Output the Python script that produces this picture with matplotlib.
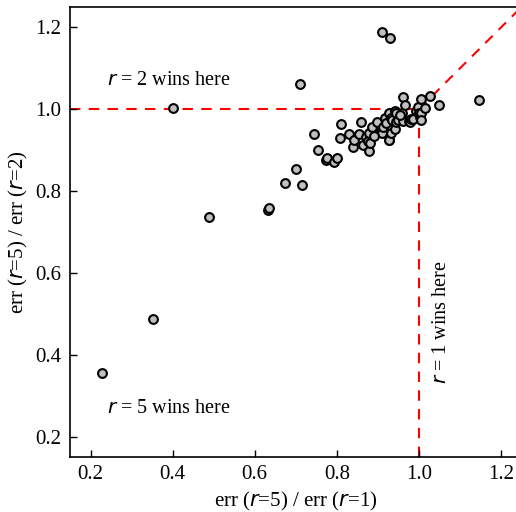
import matplotlib
matplotlib.use("Agg")
import matplotlib.pyplot as plt

plt.rcParams['font.family'] = ['Liberation Serif', 'DejaVu Serif']
plt.rcParams['mathtext.fontset'] = 'dejavusans'

# ratio err(r=5)/err(r=1)
ratio_r1 = [0.229, 0.351, 0.402, 0.488, 0.632, 0.635, 0.675, 0.700, 0.716, 0.711,
            0.745, 0.753, 0.773, 0.776, 0.792, 0.800, 0.808, 0.810, 0.829, 0.840,
            0.841, 0.854, 0.859, 0.863, 0.872, 0.875, 0.878, 0.879, 0.880, 0.885,
            0.897, 0.907, 0.909, 0.910, 0.913, 0.917, 0.921, 0.926, 0.927, 0.928,
            0.929, 0.932, 0.933, 0.934, 0.941, 0.942, 0.944, 0.944, 0.950, 0.960,
            0.962, 0.962, 0.965, 0.976, 0.978, 0.980, 0.986, 0.994, 0.997, 1.000,
            1.002, 1.004, 1.004, 1.006, 1.015, 1.027, 1.049, 1.146, 0.890, 0.955]
# ratio err(r=5)/err(r=2)
ratio_r2 = [0.356, 0.488, 1.002, 0.737, 0.754, 0.758, 0.821, 0.854, 0.815, 1.063,
            0.940, 0.900, 0.876, 0.880, 0.871, 0.880, 0.930, 0.965, 0.939, 0.908,
            0.926, 0.939, 0.969, 0.912, 0.932, 0.922, 0.898, 0.941, 0.918, 0.957,
            0.969, 0.948, 0.942, 1.188, 0.957, 0.979, 0.967, 0.990, 0.924, 0.926,
            1.174, 0.979, 0.941, 0.973, 0.953, 0.996, 0.990, 0.969, 0.973, 0.992,
            1.030, 0.972, 1.011, 0.971, 0.970, 0.977, 0.977, 0.996, 1.006, 0.990,
            0.981, 1.025, 0.990, 0.975, 1.002, 1.032, 1.011, 1.022, 0.935, 0.985]

lim = (0.15, 1.25)
ticks = [0.2, 0.4, 0.6, 0.8, 1.0, 1.2]

fig = plt.figure(figsize=(5.16, 5.12), dpi=100)
# the right part of the axes falls outside the picture, as in the original
ax = fig.add_axes([70 / 516, 55 / 512, 451.5 / 516, 450 / 512])

# regions where each r wins
ax.plot([lim[0], 1.0], [1.0, 1.0], color='red', ls='--', lw=1.5, dashes=(5, 4), zorder=1)
ax.plot([1.0, 1.0], [lim[0], 1.0], color='red', ls='--', lw=1.5, dashes=(5, 4), zorder=1)
ax.plot([1.0, lim[1]], [1.0, lim[1]], color='red', ls='--', lw=1.5, dashes=(5, 4), zorder=1)

ax.scatter(ratio_r1, ratio_r2, s=40, facecolor='#c0c0c0', edgecolor='black',
           linewidths=1.5, zorder=3)

ax.text(0.239, 1.071, '$r$ = 2 wins here', fontsize=14.5, va='center', ha='left')
ax.text(0.239, 0.268, '$r$ = 5 wins here', fontsize=14.5, va='center', ha='left')
ax.text(1.054, 0.48, '$r$ = 1 wins here', fontsize=14.5, va='center', ha='center',
        rotation=90)

ax.set_xlim(lim)
ax.set_ylim(lim)
ax.set_xticks(ticks)
ax.set_yticks(ticks)
ax.tick_params(direction='in', length=5, width=1, labelsize=15, pad=6)
ax.set_xlabel('err ($r$=5) / err ($r$=1)', fontsize=15)
ax.set_ylabel('err ($r$=5) / err ($r$=2)', fontsize=15)
for sp in ax.spines.values():
    sp.set_linewidth(1.2)
ax.spines['right'].set_visible(False)

fig.savefig('out.png', dpi=100)
